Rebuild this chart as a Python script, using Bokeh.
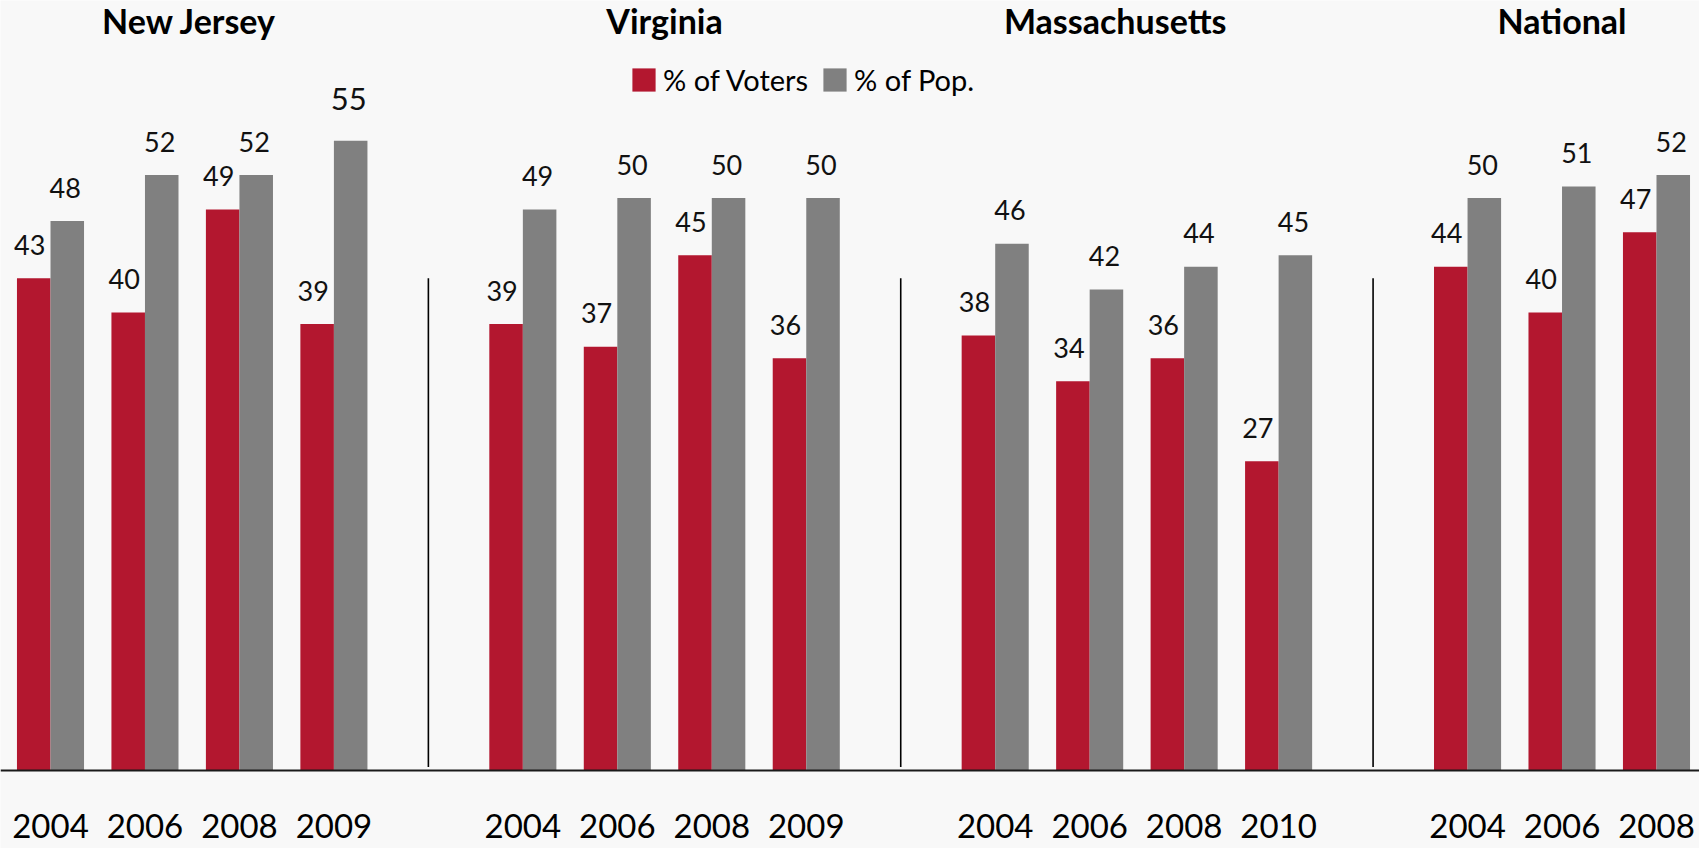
from bokeh.plotting import figure
from bokeh.models import ColumnDataSource, Range1d, Legend, LegendItem, Span
from bokeh.core.properties import value
from bokeh.embed import file_html
from bokeh.resources import INLINE

# ---------------- data ----------------
regions = ["New Jersey", "Virginia", "Massachusetts", "National"]
nj_years = ["2004", "2006", "2008", "2009"]
nj_voters = [43, 40, 49, 39]
nj_pop = [48, 52, 52, 55]
va_years = ["2004", "2006", "2008", "2009"]
va_voters = [39, 37, 45, 36]
va_pop = [49, 50, 50, 50]
ma_years = ["2004", "2006", "2008", "2010"]
ma_voters = [38, 34, 36, 27]
ma_pop = [46, 42, 44, 45]
nat_years = ["2004", "2006", "2008"]
nat_voters = [44, 40, 47]
nat_pop = [50, 51, 52]
series_names = ["% of Voters", "% of Pop."]

groups = [(nj_years, nj_voters, nj_pop), (va_years, va_voters, va_pop),
          (ma_years, ma_voters, ma_pop), (nat_years, nat_voters, nat_pop)]

# ---------------- layout ----------------
RED = "#b3172f"
GRAY = "#808080"
BG = "#f8f8f8"
FONT = "Lato"
BW = 0.355

centers, year_labels, voters, pop, region_of = [], [], [], [], []
title_x, seps = [], []
start = 0
for name, (yrs, v, p_) in zip(regions, groups):
    xs = [start + i for i in range(len(yrs))]
    centers += xs
    year_labels += yrs
    voters += v
    pop += p_
    region_of += [name] * len(yrs)
    title_x.append((xs[0] + xs[-1]) / 2)
    if start > 0:
        seps.append(start - 1)
    start += len(yrs) + 1

title_shift = {"Massachusetts": -0.23, "New Jersey": -0.03}
title_x = [tx + title_shift.get(n, 0) for tx, n in zip(title_x, regions)]

W, H = 1699, 848
PX_PER_UNIT = 11.45
PX_PER_SLOT = 94.47
BASE_PX = 770          # baseline, pixels from top
FIRST_PX = 50          # first group centre, pixels from left
ymax = BASE_PX / PX_PER_UNIT
ymin = -(H - BASE_PX) / PX_PER_UNIT
xmin = -FIRST_PX / PX_PER_SLOT
xmax = (W - FIRST_PX) / PX_PER_SLOT

# alphabetic text renders ~0.44em lower than requested; compensate
def lift(fs):
    return 0.44 * fs

big = [(r == "New Jersey" and y == "2009") for r, y in zip(region_of, year_labels)]
src = ColumnDataSource(dict(
    xr=[c - BW / 2 for c in centers],
    xg=[c + BW / 2 for c in centers],
    voters=voters, pop=pop,
    vlab=[str(v) for v in voters],
    plab=[str(v) for v in pop],
    psize=["31px" if b else "27px" for b in big],
    poff=[-28 - lift(31) if b else -21.5 - lift(27) for b in big],
))

p = figure(width=W, height=H,
           x_range=Range1d(xmin, xmax), y_range=Range1d(ymin, ymax),
           output_backend="svg", toolbar_location=None,
           min_border=0)
p.background_fill_color = BG
p.border_fill_color = BG
p.outline_line_color = None
p.xgrid.visible = False
p.ygrid.visible = False
p.axis.visible = False

r_red = p.vbar(x="xr", top="voters", width=BW, bottom=0, source=src,
               fill_color=RED, line_color=None)
r_gray = p.vbar(x="xg", top="pop", width=BW, bottom=0, source=src,
                fill_color=GRAY, line_color=None)

p.text(x="xr", y="voters", text="vlab", source=src, x_offset=-4,
       y_offset=-21.5 - lift(27),
       text_align="center", text_baseline="alphabetic",
       text_font=value(FONT), text_font_size="27px", text_color="#111111")
p.text(x="xg", y="pop", text="plab", source=src, x_offset=-2, y_offset="poff",
       text_align="center", text_baseline="alphabetic",
       text_font=value(FONT), text_font_size="psize", text_color="#111111")

# baseline
p.add_layout(Span(location=0, dimension="width", line_color="#1a1a1a",
                  line_width=2))

# separators
p.segment(x0=seps, y0=[0.3] * len(seps), x1=seps, y1=[43.0] * len(seps),
          line_color="#000000", line_width=1.6)

# region titles
p.text(x=title_x, y=[ymax] * len(regions), text=regions,
       y_offset=35 - lift(34),
       text_align="center", text_baseline="alphabetic",
       text_font=value(FONT), text_font_style="bold", text_font_size="34px",
       text_color="#000000")

# year labels
p.text(x=centers, y=[0] * len(centers), text=year_labels,
       y_offset=70 - lift(33),
       text_align="center", text_baseline="alphabetic",
       text_font=value(FONT), text_font_size="33px", text_color="#000000")

legend = Legend(items=[LegendItem(label=series_names[0], renderers=[r_red]),
                       LegendItem(label=series_names[1], renderers=[r_gray])],
                orientation="horizontal", location=(629, 751),
                glyph_width=29, glyph_height=29, label_standoff=5, spacing=12,
                padding=0, margin=0, border_line_color=None,
                background_fill_alpha=0,
                label_text_font=FONT, label_text_font_size="29px",
                label_text_color="#000000")
p.add_layout(legend, "center")

open("out.html", "w").write(file_html(p, INLINE))
